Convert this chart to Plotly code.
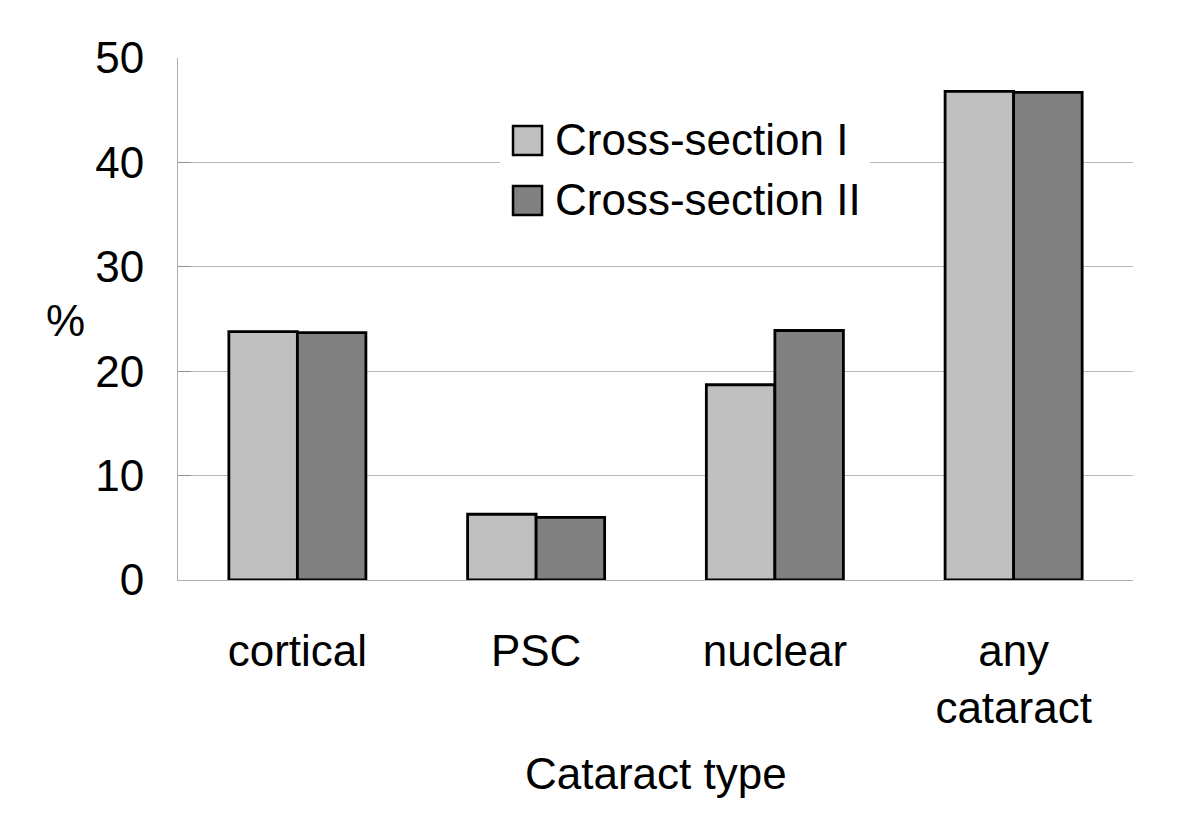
import plotly.graph_objects as go

categories = ["cortical", "PSC", "nuclear", "any<br>cataract"]
series_names = ["Cross-section I", "Cross-section II"]
cross_section_1 = [23.8, 6.3, 18.7, 46.8]
cross_section_2 = [23.7, 6.0, 23.9, 46.7]
y_ticks = [0, 10, 20, 30, 40, 50]
x_title = "Cataract type"
y_title = "%"

colors = ["#c0c0c0", "#808080"]
FONT = "Arial, Liberation Sans, sans-serif"
FS = 44

fig = go.Figure()
for name, vals, col in zip(series_names, [cross_section_1, cross_section_2], colors):
    fig.add_trace(go.Bar(
        x=categories, y=vals, name=name,
        marker=dict(color=col, line=dict(color="black", width=2.8)),
        showlegend=False,
    ))

fig.update_layout(
    width=1200, height=815,
    margin=dict(l=170, r=75, t=50, b=243),
    paper_bgcolor="white", plot_bgcolor="white",
    barmode="group", bargap=0.426, bargroupgap=0,
    font=dict(family=FONT, size=FS, color="black"),
)
fig.update_yaxes(
    range=[0, 50], tickvals=y_ticks, ticktext=[str(v) for v in y_ticks],
    showgrid=True, gridcolor="#b8b8b8", gridwidth=1,
    showline=True, linecolor="#b0b0b0", linewidth=1,
    ticks="inside", ticklen=13, tickcolor="#909090",
    ticklabelstandoff=24, zeroline=False,
    tickfont=dict(size=FS),
)
fig.update_xaxes(
    showline=True, linecolor="#b0b0b0", linewidth=1,
    ticks="", ticklabelstandoff=32, tickfont=dict(size=FS),
)

# y title (horizontal) and x title
fig.add_annotation(text=y_title, xref="paper", yref="paper", x=-0.118, y=0.498,
                   showarrow=False, xanchor="center", yanchor="middle", font=dict(size=FS))
fig.add_annotation(text=x_title, xref="paper", yref="paper", x=0.5, y=-0.37,
                   showarrow=False, xanchor="center", yanchor="middle", font=dict(size=FS))

# custom legend
fig.add_shape(type="rect", xref="paper", yref="paper", x0=0.337, x1=0.7246, y0=0.68, y1=0.891,
              fillcolor="white", line=dict(width=0), layer="above")
legend_rows = [(0.8142, 0.8697, 0.843), (0.699, 0.7548, 0.728)]
for (y0, y1, yt), name, col in zip(legend_rows, series_names, colors):
    fig.add_shape(type="rect", xref="paper", yref="paper", x0=0.3508, x1=0.3812, y0=y0, y1=y1,
                  fillcolor=col, line=dict(color="black", width=2.5), layer="above")
    fig.add_annotation(text=name, xref="paper", yref="paper", x=0.3927, y=yt,
                       showarrow=False, xanchor="left", yanchor="middle", font=dict(size=FS))

fig.write_html("out.html")
